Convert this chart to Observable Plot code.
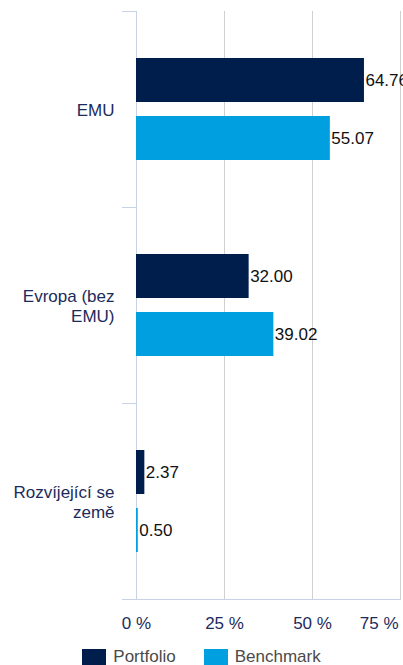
<!DOCTYPE html>
<html>
<head>
<meta charset="utf-8">
<script src="https://cdn.jsdelivr.net/npm/d3@7"></script>
<script src="https://cdn.jsdelivr.net/npm/@observablehq/plot@0.6"></script>
<style>
  body { margin: 0; background: #fff; font-family: "Liberation Sans", Arial, sans-serif; }
  #legend { display: flex; justify-content: center; align-items: center; margin-top: 13px; font-size: 17px; color: #4a4a4a; line-height: 18px; }
  .item { display: flex; align-items: center; margin: 0 14px; }
  .sw { width: 24px; height: 17px; margin-right: 7px; }
</style>
</head>
<body>
<div id="chart"></div>
<div id="legend"></div>
<script>
const categories = ["EMU", "Evropa (bez EMU)", "Rozvíjející se země"];
const categoryLabels = ["EMU", "Evropa (bez\nEMU)", "Rozvíjející se\nzemě"];
const series = ["Portfolio", "Benchmark"];
const portfolio = [64.76, 32.00, 2.37];
const benchmark = [55.07, 39.02, 0.50];
const xTicks = [0, 25, 50, 75];
const colors = ["#001e4b", "#009fdf"];
const navy = "#1b2b5b";

const data = categories.flatMap((c, i) => [
  {category: c, series: series[0], value: portfolio[i]},
  {category: c, series: series[1], value: benchmark[i]}
]);

const fmtPct = d => d + " %";

const chart = Plot.plot({
  width: 403,
  height: 635,
  marginLeft: 136,
  marginRight: 3,
  marginTop: 10,
  marginBottom: 35,
  style: {fontFamily: "Liberation Sans, Arial, sans-serif", fontSize: "17px", overflow: "visible", background: "#fff"},
  x: {domain: [0, 75], ticks: xTicks},
  fy: {domain: categories, padding: 0},
  y: {domain: series, paddingInner: 0.24, paddingOuter: 0.79, axis: null},
  color: {domain: series, range: colors},
  marks: [
    Plot.gridX(xTicks.slice(1), {stroke: "#d0d0d0", strokeOpacity: 1}),
    Plot.frame({anchor: "left", stroke: "#c9d3e6", facet: "super"}),
    Plot.frame({anchor: "bottom", stroke: "#c9d3e6", facet: "super", insetLeft: -14}),
    Plot.frame({anchor: "top", stroke: "#c9d3e6", insetLeft: -14, insetRight: 264}),
    Plot.barX(data, {x: "value", y: "series", fy: "category", fill: "series"}),
    Plot.text(data, {x: "value", y: "series", fy: "category", text: d => d.value.toFixed(2), textAnchor: "start", dx: 1, fill: "#111", fontSize: 17}),
    Plot.axisFy({anchor: "left", tickSize: 0, tickPadding: 22, tickFormat: c => categoryLabels[categories.indexOf(c)], fill: navy, fontSize: 17, lineHeight: 1.18, label: null}),
    Plot.axisX(xTicks.slice(0, 3), {tickSize: 0, tickPadding: 17, tickFormat: fmtPct, fill: navy, fontSize: 17, label: null}),
    Plot.axisX(xTicks.slice(3), {tickSize: 0, tickPadding: 17, tickFormat: fmtPct, fill: navy, fontSize: 17, textAnchor: "end", dx: -2, label: null})
  ]
});
document.getElementById("chart").appendChild(chart);

const legend = document.getElementById("legend");
series.forEach((s, i) => {
  const it = document.createElement("div");
  it.className = "item";
  const sw = document.createElement("div");
  sw.className = "sw";
  sw.style.background = colors[i];
  const t = document.createElement("span");
  t.textContent = s;
  it.appendChild(sw);
  it.appendChild(t);
  legend.appendChild(it);
});
</script>
</body>
</html>
